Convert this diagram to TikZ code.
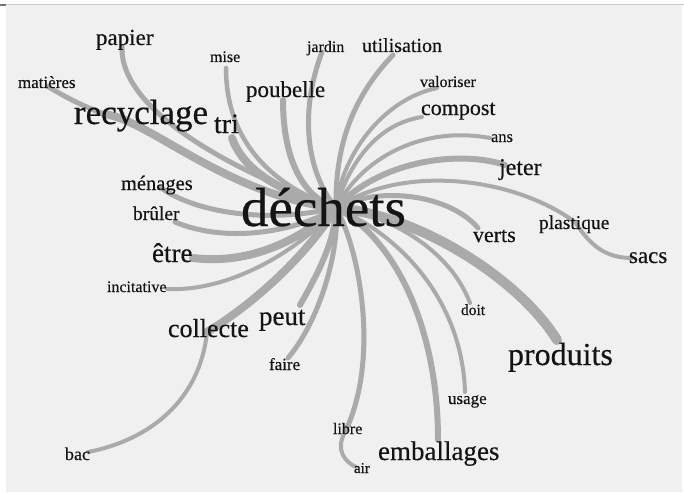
\documentclass[tikz,border=0pt]{standalone}
\usepackage{fontspec}
\setmainfont{Liberation Serif}
\newfontfamily\wordfont[FakeBold=0.4]{Liberation Serif}
\definecolor{bg}{HTML}{F0F0F0}
\definecolor{edgec}{HTML}{AAAAAA}
\definecolor{txt}{HTML}{141414}
\definecolor{rule}{HTML}{C8C8C8}
\definecolor{corner}{HTML}{777777}
\newcommand\wsz[1]{\wordfont\fontsize{#1}{#1}\selectfont}
\begin{document}
\begin{tikzpicture}[x=1pt,y=-1pt,
  word/.style={anchor=base west, inner sep=0pt, outer sep=0pt, text=txt},
  link/.style={draw=edgec, line cap=round}]
\useasboundingbox (0,0) rectangle (684,492);
\fill[white] (0,0) rectangle (684,492);
\fill[bg] (6,5) rectangle (682,492);
\draw[rule, line width=1pt] (6,4.5) -- (684,4.5);
\draw[corner, line width=2pt] (0,5) -- (6,5);

% anchor points of connectors
\coordinate (hub) at (336,208);
\coordinate (papier-e) at (122,47);
\coordinate (matieres-e) at (47,86);
\coordinate (recyclage-e) at (104,114);
\coordinate (mise-e) at (226,68);
\coordinate (tri-e) at (232,138);
\coordinate (poubelle-e) at (283,100);
\coordinate (jardin-e) at (322,52);
\coordinate (utilisation-e) at (393,55);
\coordinate (valoriser-e) at (437,88);
\coordinate (compost-e) at (422,117);
\coordinate (ans-e) at (490,138);
\coordinate (jeter-e) at (505,165);
\coordinate (plastique-e) at (575,222);
\coordinate (sacs-e) at (632,258);
\coordinate (verts-e) at (478,228);
\coordinate (produits-e) at (557,340);
\coordinate (doit-e) at (470,303);
\coordinate (usage-e) at (465,392);
\coordinate (emballages-e) at (438,440);
\coordinate (libre-e) at (345,432);
\coordinate (air-e) at (356,467);
\coordinate (faire-e) at (288,358);
\coordinate (peut-e) at (300,305);
\coordinate (collecte-e) at (207,332);
\coordinate (bac-e) at (88,452);
\coordinate (incitative-e) at (167,289);
\coordinate (etre-e) at (193,258);
\coordinate (bruler-e) at (175,222);
\coordinate (menages-e) at (160,187);

% connectors
\draw[link, line width=5pt] (papier-e) .. controls (120,110) and (230,170) .. (hub);
\draw[link, line width=5pt] (matieres-e) .. controls (70,100) and (88,108) .. (recyclage-e);
\draw[link, line width=8pt] (recyclage-e) .. controls (150,120) and (225,195) .. (hub);
\draw[link, line width=4.5pt] (mise-e) .. controls (226,140) and (270,185) .. (hub);
\draw[link, line width=8pt] (tri-e) .. controls (245,175) and (290,195) .. (hub);
\draw[link, line width=6pt] (poubelle-e) .. controls (283,170) and (310,200) .. (hub);
\draw[link, line width=5pt] (jardin-e) .. controls (300,110) and (305,170) .. (hub);
\draw[link, line width=5pt] (utilisation-e) .. controls (350,100) and (335,150) .. (hub);
\draw[link, line width=4pt] (valoriser-e) .. controls (380,100) and (340,160) .. (hub);
\draw[link, line width=4pt] (compost-e) .. controls (370,125) and (345,175) .. (hub);
\draw[link, line width=4pt] (ans-e) .. controls (420,125) and (360,160) .. (hub);
\draw[link, line width=6pt] (jeter-e) .. controls (460,150) and (380,160) .. (hub);
\draw[link, line width=4pt] (plastique-e) .. controls (510,175) and (400,165) .. (hub);
\draw[link, line width=4pt] (plastique-e) .. controls (590,245) and (605,258) .. (sacs-e);
\draw[link, line width=5pt] (verts-e) .. controls (450,195) and (380,185) .. (hub);
\draw[link, line width=10pt] (produits-e) .. controls (520,280) and (420,215) .. (hub);
\draw[link, line width=4pt] (doit-e) .. controls (450,250) and (390,215) .. (hub);
\draw[link, line width=4pt] (usage-e) .. controls (462,300) and (400,235) .. (hub);
\draw[link, line width=6pt] (emballages-e) .. controls (438,320) and (390,235) .. (hub);
\draw[link, line width=5pt] (libre-e) .. controls (380,360) and (360,250) .. (hub);
\draw[link, line width=4pt] (libre-e) .. controls (335,450) and (345,462) .. (air-e);
\draw[link, line width=5pt] (faire-e) .. controls (320,320) and (340,250) .. (hub);
\draw[link, line width=6pt] (peut-e) .. controls (320,270) and (335,240) .. (hub);
\draw[link, line width=8pt] (collecte-e) .. controls (260,300) and (310,250) .. (hub);
\draw[link, line width=4pt] (collecte-e) .. controls (200,400) and (150,440) .. (bac-e);
\draw[link, line width=4pt] (incitative-e) .. controls (230,292) and (300,250) .. (hub);
\draw[link, line width=8pt] (etre-e) .. controls (250,265) and (300,240) .. (hub);
\draw[link, line width=5pt] (bruler-e) .. controls (230,245) and (300,230) .. (hub);
\draw[link, line width=5pt] (menages-e) .. controls (190,210) and (260,225) .. (hub);

% words
\node[word, font=\wsz{55}] (dechets) at (241,226) {déchets};
\node[word, font=\wsz{35}] (recyclage) at (74,124) {recyclage};
\node[word, font=\wsz{23}] (papier) at (96,45) {papier};
\node[word, font=\wsz{17}] (matieres) at (18,88) {matières};
\node[word, font=\wsz{28}] (tri) at (214,133) {tri};
\node[word, font=\wsz{16}] (mise) at (210,62) {mise};
\node[word, font=\wsz{16}] (jardin) at (307,52) {jardin};
\node[word, font=\wsz{23}] (poubelle) at (246,97) {poubelle};
\node[word, font=\wsz{20}] (utilisation) at (362,52) {utilisation};
\node[word, font=\wsz{16}] (valoriser) at (420,87) {valoriser};
\node[word, font=\wsz{22}] (compost) at (421,115) {compost};
\node[word, font=\wsz{16.5}] (ans) at (491,142) {ans};
\node[word, font=\wsz{24}] (jeter) at (499,175) {jeter};
\node[word, font=\wsz{19.5}] (plastique) at (539,229) {plastique};
\node[word, font=\wsz{22}] (verts) at (473,242) {verts};
\node[word, font=\wsz{23}] (sacs) at (629,263) {sacs};
\node[word, font=\wsz{15.5}] (doit) at (461,315) {doit};
\node[word, font=\wsz{32}] (produits) at (508,365) {produits};
\node[word, font=\wsz{17}] (usage) at (448,404) {usage};
\node[word, font=\wsz{27}] (emballages) at (378,460) {emballages};
\node[word, font=\wsz{15}] (air) at (354,473) {air};
\node[word, font=\wsz{16}] (libre) at (333,434) {libre};
\node[word, font=\wsz{18}] (bac) at (65,460) {bac};
\node[word, font=\wsz{17}] (faire) at (269,370) {faire};
\node[word, font=\wsz{26}] (collecte) at (168,337) {collecte};
\node[word, font=\wsz{27}] (peut) at (259,325) {peut};
\node[word, font=\wsz{16}] (incitative) at (107,292) {incitative};
\node[word, font=\wsz{27}] (etre) at (152,262) {être};
\node[word, font=\wsz{20.5}] (menages) at (121,190) {ménages};
\node[word, font=\wsz{19.5}] (bruler) at (133,220) {brûler};
\end{tikzpicture}
\end{document}
